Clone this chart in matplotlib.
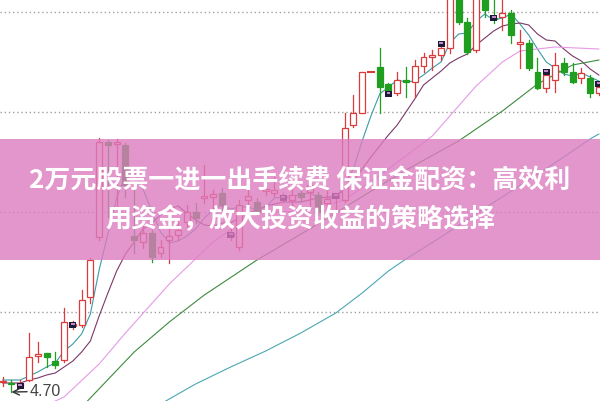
import matplotlib
matplotlib.use('Agg')
import matplotlib.pyplot as plt
from matplotlib.patches import Rectangle
import numpy as np

plt.rcParams['font.family'] = ['Noto Sans CJK SC', 'DejaVu Sans']

# daily candles, left to right
opens = [4.748, 4.745, 4.730, 4.760, 4.880, 4.895, 4.855, 4.860, 5.030, 5.035,
         5.175, 5.475, 5.950, 5.940, 5.935, 5.480, 5.450, 5.495, 5.395, 5.460,
         5.485, 5.550, 5.600, 5.670, 5.675, 5.695, 5.480, 5.425, 5.660, 5.650,
         5.705, 5.695, 5.665, 5.660, 5.695, 5.700, 5.685, 5.645, 5.670, 5.660,
         6.035, 6.095, 6.300, 6.325, 6.240, 6.195, 6.260, 6.250, 6.330, 6.375,
         6.385, 6.420, 6.735, 6.550, 6.410, 6.685, 6.570, 6.575, 6.595, 6.440,
         6.445, 6.300, 6.220, 6.260, 6.345, 6.300, 6.270, 6.270, 6.195]
closes = [4.753, 4.740, 4.745, 4.875, 4.890, 4.875, 4.835, 5.050, 5.040, 5.160,
          5.360, 5.950, 5.935, 5.950, 5.735, 5.460, 5.495, 5.375, 5.425, 5.480,
          5.510, 5.600, 5.570, 5.680, 5.690, 5.635, 5.495, 5.635, 5.680, 5.600,
          5.715, 5.710, 5.675, 5.685, 5.675, 5.735, 5.600, 5.665, 5.685, 6.020,
          6.095, 6.300, 6.300, 6.225, 6.205, 6.260, 6.250, 6.330, 6.375, 6.385,
          6.420, 6.710, 6.550, 6.400, 6.685, 6.610, 6.565, 6.595, 6.485, 6.450,
          6.320, 6.220, 6.285, 6.335, 6.300, 6.250, 6.295, 6.195, 6.225]
highs = [4.775, 4.760, 4.760, 4.995, 4.950, 4.895, 4.900, 5.120, 5.055, 5.210,
         5.370, 5.970, 5.960, 5.965, 5.945, 5.725, 5.530, 5.510, 5.460, 5.520,
         5.560, 5.635, 5.645, 5.835, 5.710, 5.720, 5.515, 5.660, 5.710, 5.670,
         5.810, 5.775, 5.695, 5.710, 5.720, 5.750, 5.700, 5.710, 5.695, 6.095,
         6.185, 6.300, 6.300, 6.420, 6.245, 6.300, 6.325, 6.360, 6.395, 6.410,
         6.450, 6.760, 6.785, 6.570, 6.710, 6.710, 6.670, 6.660, 6.610, 6.510,
         6.460, 6.370, 6.300, 6.395, 6.370, 6.345, 6.320, 6.285, 6.250]
lows = [4.730, 4.700, 4.720, 4.755, 4.850, 4.825, 4.820, 4.850, 5.015, 5.025,
        5.145, 5.460, 5.575, 5.610, 5.675, 5.395, 5.420, 5.350, 5.375, 5.345,
        5.460, 5.525, 5.545, 5.645, 5.610, 5.610, 5.460, 5.410, 5.635, 5.585,
        5.685, 5.680, 5.650, 5.635, 5.655, 5.625, 5.585, 5.585, 5.595, 5.650,
        6.025, 6.095, 6.300, 6.095, 6.200, 6.185, 6.175, 6.175, 6.300, 6.310,
        6.360, 6.395, 6.540, 6.390, 6.400, 6.575, 6.545, 6.510, 6.445, 6.320,
        6.310, 6.215, 6.200, 6.200, 6.285, 6.245, 6.245, 6.175, 6.185]

# moving averages
ma5 = [4.76, 4.76, 4.76, 4.78, 4.80, 4.825, 4.845, 4.905, 4.94, 4.99,
       5.09, 5.31, 5.49, 5.67, 5.785, 5.805, 5.715, 5.605, 5.50, 5.445,
       5.455, 5.48, 5.515, 5.57, 5.61, 5.635, 5.615, 5.625, 5.625, 5.61,
       5.625, 5.67, 5.675, 5.675, 5.69, 5.695, 5.675, 5.67, 5.67, 5.74,
       5.815, 5.955, 6.08, 6.19, 6.225, 6.26, 6.25, 6.255, 6.285, 6.32,
       6.35, 6.445, 6.49, 6.495, 6.555, 6.59, 6.56, 6.57, 6.59, 6.54,
       6.485, 6.415, 6.35, 6.32, 6.29, 6.28, 6.295, 6.275, 6.255]
ma10 = [4.745, 4.745, 4.745, 4.76, 4.77, 4.785, 4.795, 4.825, 4.855, 4.90,
        4.955, 5.08, 5.195, 5.305, 5.39, 5.45, 5.515, 5.545, 5.585, 5.615,
        5.63, 5.595, 5.56, 5.535, 5.53, 5.545, 5.545, 5.57, 5.595, 5.61,
        5.63, 5.64, 5.65, 5.65, 5.65, 5.66, 5.67, 5.675, 5.675, 5.715,
        5.755, 5.815, 5.875, 5.93, 5.985, 6.035, 6.10, 6.165, 6.235, 6.27,
        6.305, 6.345, 6.37, 6.39, 6.435, 6.47, 6.505, 6.53, 6.54, 6.545,
        6.535, 6.49, 6.46, 6.455, 6.415, 6.38, 6.355, 6.315, 6.285]
ma20_idx = [6, 7, 11, 14, 19, 24, 29, 34, 39, 44, 49, 54, 57, 59, 63, 68]
ma20 = [4.655, 4.675, 4.84, 4.995, 5.24, 5.45, 5.605, 5.60, 5.66, 5.815,
        5.98, 6.23, 6.35, 6.405, 6.425, 6.415]
ma60_idx = [9, 10, 15, 19, 23, 29, 35, 40, 46, 52, 57, 61, 65, 68]
ma60 = [4.625, 4.67, 4.90, 5.05, 5.185, 5.36, 5.515, 5.65, 5.81, 5.955,
        6.105, 6.24, 6.335, 6.36]
ma120_idx = [18, 19, 22, 26, 30, 34, 38, 41, 44, 46, 50, 55, 60, 64, 67, 68]
ma120 = [4.64, 4.665, 4.74, 4.825, 4.905, 4.995, 5.095, 5.195, 5.305, 5.365,
         5.475, 5.62, 5.76, 5.875, 5.965, 5.99]

mark_idx = [2, 8, 26, 32, 38, 44, 50, 56, 62, 68]
mark_y = [4.73, 5.035, 5.485, 5.67, 5.68, 6.19, 6.44, 6.57, 6.30, 6.24]

grid_levels = [5.1, 5.6, 6.1, 6.6]
low_label = '4.70'
title_lines = ['2万元股票一进一出手续费 保证金配资：高效利', '用资金，放大投资收益的策略选择']

RED = '#dd3b3b'
GREEN = '#1f9e1f'

fig = plt.figure(figsize=(6, 4.01), dpi=100)
ax = fig.add_axes([0, 0, 1, 1])
ax.set_xlim(-0.308, 68.13)
ax.set_ylim(4.655, 6.66)
ax.axis('off')

for g in grid_levels:
    ax.axhline(g, color='#a0a0a0', lw=1, ls=(0, (1, 2)), zorder=1)

w = 0.68
for i in range(len(opens)):
    o, c, h, l = opens[i], closes[i], highs[i], lows[i]
    col = RED if c >= o else GREEN
    ax.plot([i, i], [l, h], color=col, lw=0.9, zorder=3)
    if abs(c - o) < 0.004:
        ax.plot([i - w / 2, i + w / 2], [o, o], color=col, lw=1.5, zorder=4)
    elif c > o:
        ax.add_patch(Rectangle((i - w / 2, o), w, c - o, facecolor='white',
                               edgecolor=col, lw=0.9, zorder=4))
    else:
        ax.add_patch(Rectangle((i - w / 2, c), w, o - c, facecolor=col,
                               edgecolor=col, lw=0.9, zorder=4))

x = np.arange(len(opens))
ax.plot(x, ma5, color='#3c9aa6', lw=0.8, zorder=2)
ax.plot(x, ma10, color='#7a3868', lw=0.8, zorder=2)
ax.plot(ma20_idx, ma20, color='#e69ae6', lw=0.8, zorder=2)
ax.plot(ma60_idx, ma60, color='#3d8a3d', lw=0.8, zorder=2)
ax.plot(ma120_idx, ma120, color='#4aa7b2', lw=0.8, zorder=2)

for i, yv in zip(mark_idx, mark_y):
    ax.add_patch(Rectangle((i - 0.4, yv - 0.017), 0.8, 0.034, facecolor='#1c1c38',
                           edgecolor='none', zorder=5))
    ax.add_patch(Rectangle((i - 0.22, yv + 0.002), 0.44, 0.01, facecolor='#c58ac5',
                           edgecolor='none', zorder=6))

ax.annotate(low_label, xy=(1, 4.70), xytext=(3.1, 4.703), ha='left', va='center',
            fontsize=11.5, color='#444444', family='Liberation Sans',
            arrowprops=dict(arrowstyle='->', color='#333333', lw=1, shrinkA=0, shrinkB=0),
            zorder=6)

# pink banner with the headline
ax.add_patch(Rectangle((0, 1 - 260 / 401), 1, 121 / 401, transform=ax.transAxes,
                       facecolor='#dd7cc0', alpha=0.8, edgecolor='none', zorder=10))
ax.text(0.5, 1 - 181 / 401, title_lines[0], transform=ax.transAxes, ha='center',
        va='center', fontsize=18.7, fontweight='bold', color='white', zorder=11)
ax.text(0.5, 1 - 220 / 401, title_lines[1], transform=ax.transAxes, ha='center',
        va='center', fontsize=18.7, fontweight='bold', color='white', zorder=11)

fig.savefig('out.png', dpi=100)
